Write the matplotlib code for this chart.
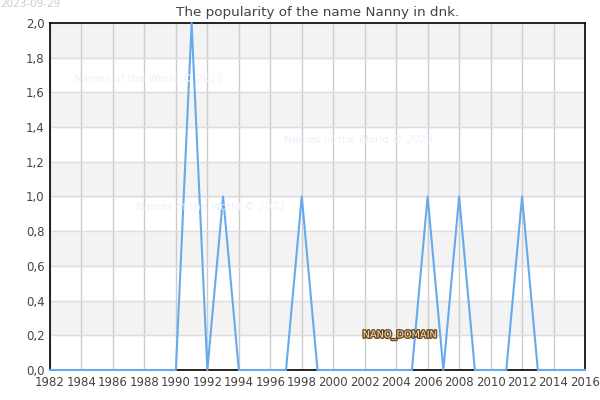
import matplotlib
matplotlib.use('Agg')
import matplotlib.pyplot as plt
import matplotlib.patheffects as pe
from matplotlib.ticker import FuncFormatter, MultipleLocator

# data
years = list(range(1982, 2017))
peaks = {1991: 2, 1993: 1, 1998: 1, 2006: 1, 2008: 1, 2012: 1}
values = [peaks.get(y, 0) for y in years]

fig = plt.figure(figsize=(6, 4), dpi=100)
ax = fig.add_axes([50/600, 30/400, 535/600, 347/400])

# alternating bands
for lo in [0.2, 0.6, 1.0, 1.4, 1.8]:
    ax.axhspan(lo, lo + 0.2, color='#f3f3f3', zorder=0)

ax.plot(years, values, color='#66aaee', linewidth=1.5, zorder=5, clip_on=False)

ax.set_xlim(1982, 2016)
ax.set_ylim(0, 2.0)
ax.xaxis.set_major_locator(MultipleLocator(2))
ax.yaxis.set_major_locator(MultipleLocator(0.2))
ax.yaxis.set_major_formatter(FuncFormatter(lambda v, p: ('%.1f' % v).replace('.', ',')))
ax.xaxis.grid(True, color='#cccccc', linewidth=1)
ax.yaxis.grid(True, color='#dddddd', linewidth=1)
ax.set_axisbelow(True)
ax.tick_params(length=0, labelsize=8.5, colors='#444444', pad=4)
for s in ax.spines.values():
    s.set_color('black')
    s.set_linewidth(1.2)
    s.set_zorder(4)

ax.set_title('The popularity of the name Nanny in dnk.', fontsize=9.7, color='#444444', pad=5)

# watermarks
wm = dict(color='#eeeeff', fontsize=7.6, ha='center', va='center')
fig.text(148/600, 1 - 79/400, 'Names of the World © 2023', **wm)
fig.text(358/600, 1 - 140/400, 'Names of the World © 2023', **wm)
fig.text(210/600, 1 - 207/400, 'Names of the World © 2023', **wm)
fig.text(0, 1 - 4/400, '2023-09-29', color='#cccccc', fontsize=7.5, ha='left', va='center')

t = fig.text(400/600, 1 - 335/400, 'NANO_DOMAIN', color='#f5e0b8', fontsize=7,
             ha='center', va='center')
t.set_path_effects([pe.Stroke(linewidth=2, foreground='#6b4a22'), pe.Normal()])

fig.savefig('out.png', dpi=100)
